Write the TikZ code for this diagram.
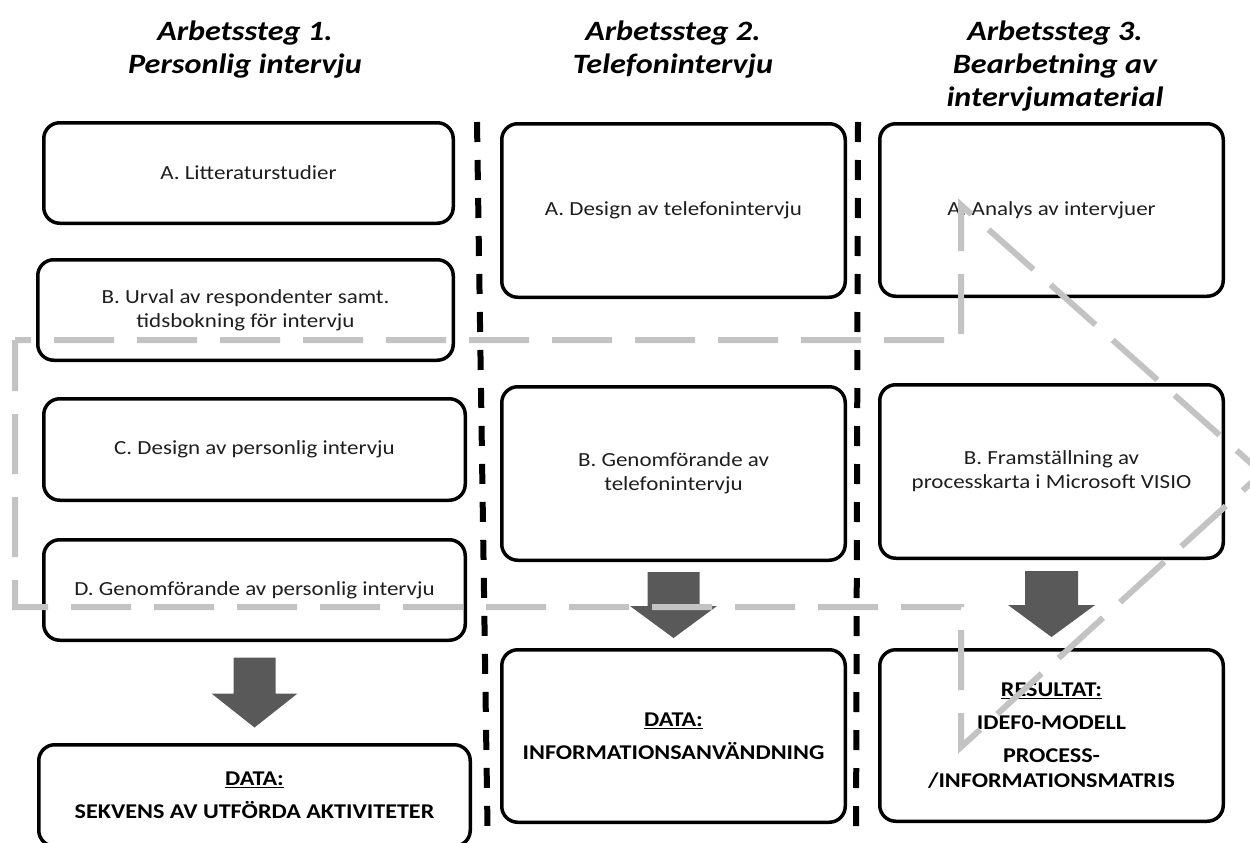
\documentclass[tikz,border=0pt]{standalone}
\usepackage{fontspec}
\setmainfont{Carlito}[FakeStretch=1.15]
\usetikzlibrary{calc}
\definecolor{guide}{HTML}{C3C3C3}
\definecolor{arrowfill}{HTML}{595959}
\definecolor{labelink}{HTML}{1E1E1E}

% down-pointing block arrow: centre, shaft half-width, half-length, head length, head half-width
\newcommand{\dropArrow}[5]{%
  \fill[bigarrow] ($(#1)+(-#2,-#3)$) -- ($(#1)+(#2,-#3)$) -- ($(#1)+(#2,#3-#4)$)
    -- ($(#1)+(#5,#3-#4)$) -- ($(#1)+(0,#3)$) -- ($(#1)+(-#5,#3-#4)$)
    -- ($(#1)+(-#2,#3-#4)$) -- cycle;}

\begin{document}
\begin{tikzpicture}[x=1pt,y=-1pt,
  stepbox/.style={draw=black, line width=3.5pt, rounded corners=16pt, inner sep=0pt,
    text=labelink, font=\fontsize{20}{24}\selectfont, align=center},
  databox/.style={stepbox, text=black, font=\bfseries\fontsize{21}{25}\selectfont},
  heading/.style={font=\bfseries\itshape\fontsize{28}{33}\selectfont, align=center},
  divider/.style={line width=6pt, dash pattern=on 20pt off 18pt},
  flowpath/.style={draw=guide, line width=6pt, dash pattern=on 60pt off 23pt, dash phase=44pt, line join=miter},
  bigarrow/.style={fill=arrowfill}]

\useasboundingbox (0,0) rectangle (1250,843);
\begin{scope}
\clip (0,0) rectangle (1250,843);

% column headings
\node[heading] (h1) at (245,50) {Arbetssteg 1.\\Personlig intervju};
\node[heading] (h2) at (673,50) {Arbetssteg 2.\\Telefonintervju};
\node[heading] (h3) at (1055,66) {Arbetssteg 3.\\Bearbetning av\\intervjumaterial};

% column dividers
\coordinate (d1a) at (477,122);
\coordinate (d1b) at (488,860);
\coordinate (d2a) at (858,122);
\coordinate (d2b) at (856,860);
\draw[divider] (d1a) -- (d1b);
\draw[divider] (d2a) -- (d2b);

% step 1
\node[stepbox, minimum width=409.5pt, minimum height=100.5pt] (c1A) at (248.5,173) {A. Litteraturstudier};
\node[stepbox, minimum width=415.5pt, minimum height=100.5pt] (c1B) at (245.5,310) {B. Urval av respondenter samt.\\tidsbokning för intervju};
\node[stepbox, minimum width=421.5pt, minimum height=101.5pt] (c1C) at (254.5,449.5) {C. Design av personlig intervju};
\node[stepbox, minimum width=421.5pt, minimum height=100.5pt] (c1D) at (254.5,590) {D. Genomförande av personlig intervju};
\node[databox, minimum width=431.5pt, minimum height=101.5pt] (c1R) at (254.5,795.5) {\underline{DATA:}\\[8pt]SEKVENS AV UTFÖRDA AKTIVITETER};

% step 2
\node[stepbox, minimum width=343.5pt, minimum height=173.5pt] (c2A) at (673.5,210.5) {A. Design av telefonintervju};
\node[stepbox, minimum width=343.5pt, minimum height=173.5pt] (c2B) at (673.5,473.5) {B. Genomförande av\\telefonintervju};
\node[databox, minimum width=343.5pt, minimum height=172.5pt] (c2R) at (673.5,736) {\underline{DATA:}\\[8pt]INFORMATIONSANVÄNDNING};

% step 3
\node[stepbox, minimum width=343.5pt, minimum height=172.5pt] (c3A) at (1051.5,210) {A. Analys av intervjuer};
\node[stepbox, minimum width=343.5pt, minimum height=173.5pt] (c3B) at (1051.5,471.5) {B. Framställning av\\processkarta i Microsoft VISIO};
\node[databox, minimum width=343.5pt, minimum height=171.5pt] (c3R) at (1051.5,735.5) {\underline{RESULTAT:}\\[8pt]IDEF0-MODELL\\[8pt]PROCESS-\\/INFORMATIONSMATRIS};

% result arrows
\coordinate (a1) at ($(c1D.south)!0.5!(c1R.north)$);
\coordinate (a2) at ($(c2B.south)!0.5!(c2R.north)$);
\coordinate (a3) at ($(c3B.south)!0.5!(c3R.north)$);
\dropArrow{a1}{21}{35}{34}{43}
\dropArrow{a2}{26}{33}{32}{43.5}
\dropArrow{a3}{26.5}{33}{32}{43.5}

% dashed outline of the flow from interviews to processing
\draw[flowpath] (15,340) -- (961,340) -- (961,205) -- (1262,473) -- (961,747)
  -- (961,607) -- (15,607) -- cycle;
\end{scope}
\end{tikzpicture}
\end{document}
